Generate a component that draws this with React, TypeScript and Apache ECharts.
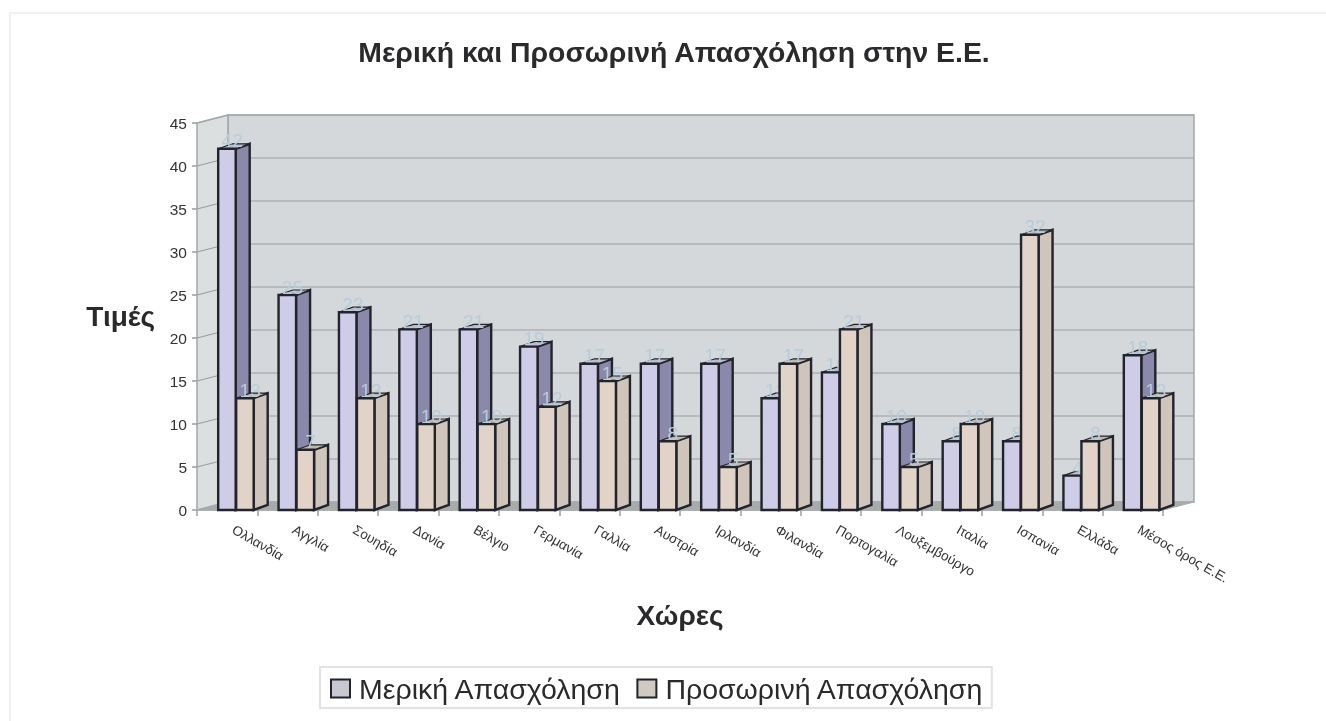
import React, { useEffect, useRef } from "react";
import * as echarts from "echarts";

const titleText = "Μερική και Προσωρινή Απασχόληση στην Ε.Ε.";
const yAxisName = "Τιμές";
const xAxisName = "Χώρες";
const partName = "Μερική Απασχόληση";
const tempName = "Προσωρινή Απασχόληση";
const categories = ["Ολλανδία","Αγγλία","Σουηδία","Δανία","Βέλγιο","Γερμανία","Γαλλία","Αυστρία","Ιρλανδία","Φιλανδία","Πορτογαλία","Λουξεμβούργο","Ιταλία","Ισπανία","Ελλάδα","Μέσος όρος Ε.Ε."];
const partValues = [42,25,23,21,21,19,17,17,17,13,16,10,8,8,4,18];
const tempValues = [13,7,13,10,10,12,15,8,5,17,21,5,10,32,8,13];
const gridTicks = [5,10,15,20,25,30,35,40,45];

const WALL_DX = 31, WALL_DY = -8, BAR_W = 17.5, SIDE_DX = 14, SIDE_DY = -5;
const EDGE = "#23232b";

function wallsRender(params: any, api: any) {
  const c = params.coordSys;
  const x0 = c.x, x1 = c.x + c.width, yB = c.y + c.height, yT = c.y;
  const lineGrey = "#9a9e9f";
  const children: any[] = [
    { type: "polygon", shape: { points: [[x0 + WALL_DX, yT + WALL_DY], [x1 + WALL_DX, yT + WALL_DY], [x1 + WALL_DX, yB + WALL_DY], [x0 + WALL_DX, yB + WALL_DY]] }, style: { fill: "#d5d8db", stroke: "#a4a7a8", lineWidth: 1.5 } },
    { type: "polygon", shape: { points: [[x0, yT], [x0 + WALL_DX, yT + WALL_DY], [x0 + WALL_DX, yB + WALL_DY], [x0, yB]] }, style: { fill: "#dcdfe0", stroke: "#a4a7a8", lineWidth: 1.5 } },
    { type: "polygon", shape: { points: [[x0, yB], [x0 + WALL_DX, yB + WALL_DY], [x1 + WALL_DX, yB + WALL_DY], [x1, yB]] }, style: { fill: "#a7abab", stroke: "#a7abab", lineWidth: 1 } },
  ];
  gridTicks.forEach((t) => {
    const y = api.coord([0, t])[1];
    children.push({ type: "polyline", shape: { points: [[x0, y], [x0 + WALL_DX, y + WALL_DY], [x1 + WALL_DX, y + WALL_DY]] }, style: { fill: "none", stroke: t === 45 ? "#a4a7a8" : lineGrey, lineWidth: 1.2 } });
  });
  return { type: "group", children };
}

function barRender(offset: number, front: string, side: string, top: string) {
  return (_params: any, api: any) => {
    const idx = api.value(0);
    const v = api.value(1);
    const p = api.coord([idx, v]);
    const b = api.coord([idx, 0]);
    const l = p[0] + offset, r = l + BAR_W, yt = p[1], yb = b[1];
    const st = { stroke: EDGE, lineWidth: 2.4, lineJoin: "miter" };
    return {
      type: "group",
      children: [
        { type: "polygon", shape: { points: [[r, yt], [r + SIDE_DX, yt + SIDE_DY], [r + SIDE_DX, yb + SIDE_DY], [r, yb]] }, style: { fill: side, ...st } },
        { type: "polygon", shape: { points: [[l, yt], [l + SIDE_DX, yt + SIDE_DY], [r + SIDE_DX, yt + SIDE_DY], [r, yt]] }, style: { fill: top, stroke: EDGE, lineWidth: 1.2 } },
        { type: "rect", shape: { x: l, y: yt, width: BAR_W, height: yb - yt }, style: { fill: front, ...st } },
        { type: "text", style: { text: String(v), x: l + 14, y: yt - 8, fill: "#b7ccd9", font: "19px 'Liberation Sans'", textAlign: "center", textVerticalAlign: "middle" } },
      ],
    };
  };
}

export default function App() {
  const ref = useRef<HTMLDivElement>(null);
  useEffect(() => {
    document.body.style.margin = "0";
    document.body.style.background = "#ffffff";
    const chart = echarts.init(ref.current!, undefined, { renderer: "svg" });
    chart.setOption({
      animation: false,
      backgroundColor: "#ffffff",
      title: {
        text: titleText, left: 669, top: 33, textAlign: "center",
        textStyle: { fontFamily: "Liberation Sans", fontWeight: "bold", fontSize: 28.4, color: "#2a2a2c" },
      },
      graphic: [
        { type: "polyline", silent: true, shape: { points: [[10, 721], [10, 13], [1326, 13]] }, style: { fill: "none", stroke: "#efefef", lineWidth: 2 }, z: -1 },
      ],
      legend: {
        data: [partName, tempName], left: 320, top: 667, itemGap: 15, itemWidth: 19, itemHeight: 18,
        padding: [7, 8, 5, 10], backgroundColor: "#ffffff", borderColor: "#e2e2e2", borderWidth: 2,
        icon: "rect", selectedMode: false,
        textStyle: { fontFamily: "Liberation Sans", fontSize: 28.5, color: "#2a2a2c", padding: [0, 0, 0, 4] },
      },
      grid: { left: 197, top: 123, width: 966, height: 387, containLabel: false },
      xAxis: {
        type: "category", data: categories, name: xAxisName, nameLocation: "middle", nameGap: 91,
        nameTextStyle: { fontFamily: "Liberation Sans", fontWeight: "bold", fontSize: 28, color: "#2a2a2c" },
        axisLine: { show: true, lineStyle: { color: "#9a9d9e", width: 1.5 } },
        axisTick: { show: true, length: 6, alignWithLabel: false, lineStyle: { color: "#9a9d9e", width: 1.5 } },
        axisLabel: { rotate: -30, interval: 0, margin: 15, padding: [0, 0, 0, 7], fontFamily: "Liberation Sans", fontSize: 13.5, color: "#333" },
      },
      yAxis: {
        type: "value", min: 0, max: 45, interval: 5, name: yAxisName, nameLocation: "middle", nameGap: 42, nameRotate: 0,
        nameTextStyle: { fontFamily: "Liberation Sans", fontWeight: "bold", fontSize: 28, color: "#2a2a2c", padding: [6, 0, 0, 0] },
        splitLine: { show: false },
        axisLine: { show: false },
        axisTick: { show: true, length: 5, lineStyle: { color: "#9a9d9e", width: 1.5 } },
        axisLabel: { margin: 10, fontFamily: "Liberation Sans", fontSize: 15.5, color: "#333" },
      },
      series: [
        { type: "custom", name: "walls", silent: true, z: 1, data: [[0, 0]], encode: { x: 0, y: 1 }, renderItem: wallsRender, clip: false },
        { type: "custom", name: partName, z: 2, clip: false, color: "#c8c8d0", itemStyle: { color: "#c8c8d0", borderColor: EDGE, borderWidth: 2 }, encode: { x: 0, y: 1 },
          data: partValues.map((v, i) => [i, v]), renderItem: barRender(-9, "#cfcce8", "#8b89ab", "#b9bacb") },
        { type: "custom", name: tempName, z: 3, clip: false, color: "#cfc9c1", itemStyle: { color: "#cfc9c1", borderColor: EDGE, borderWidth: 2 }, encode: { x: 0, y: 1 },
          data: tempValues.map((v, i) => [i, v]), renderItem: barRender(9, "#e1d3c8", "#cfc5bb", "#bdb7ad") },
      ],
    });
    return () => chart.dispose();
  }, []);
  return <div ref={ref} style={{ width: 1326, height: 721, filter: "blur(0.6px)" }} />;
}
